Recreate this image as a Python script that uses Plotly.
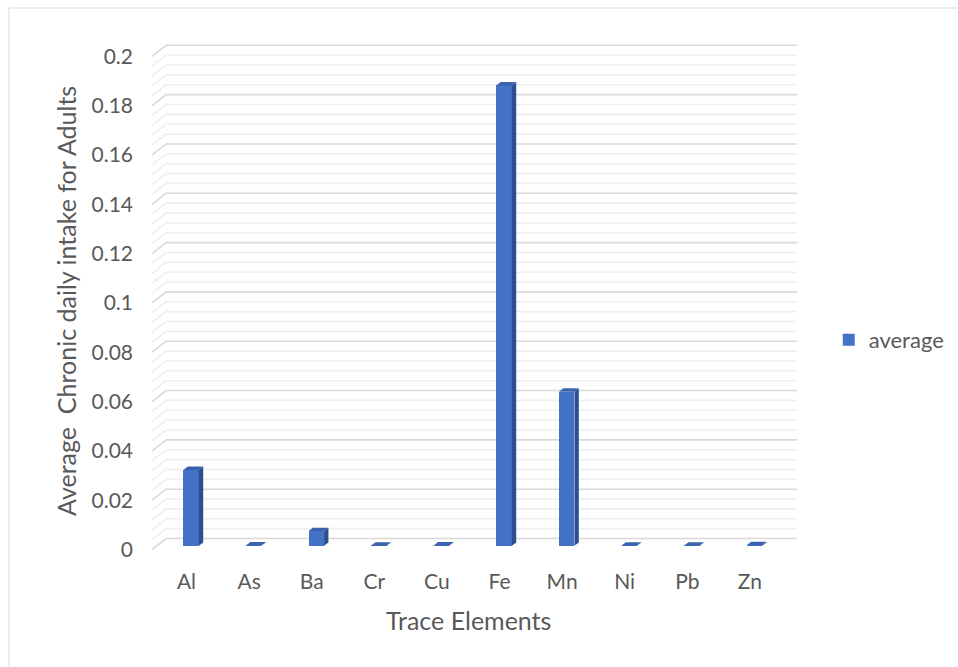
import plotly.graph_objects as go

# Chronic daily intake (average) per trace element
elements = ["Al", "As", "Ba", "Cr", "Cu", "Fe", "Mn", "Ni", "Pb", "Zn"]
average = [0.0308, 0.0002, 0.0060, 0.0001, 0.0002, 0.1867, 0.0625, 0.0001, 0.0001, 0.0003]

y_tick_vals = [0, 0.02, 0.04, 0.06, 0.08, 0.1, 0.12, 0.14, 0.16, 0.18, 0.2]
y_tick_text = ["0", "0.02", "0.04", "0.06", "0.08", "0.1", "0.12", "0.14", "0.16", "0.18", "0.2"]
minor_step = 0.004

# pseudo-3D geometry (category units / value units)
DX = 0.2236          # full depth, horizontal shift of back wall
DY = 0.00446         # full depth, vertical shift of back wall
Z0 = 0.33            # depth of the bar front face
ZD = 0.31            # bar depth
BAR_W = 0.248
FLOOR_L, FLOOR_R = -0.55, 9.53

FRONT = "#4472C4"
SIDE = "#2B4F8F"
TOP = "#3A63AE"
TEXT = "#595959"
FONT = "Lato"

fig = go.Figure()

xs = list(range(len(elements)))
base = Z0 * DY
fig.add_trace(go.Bar(
    x=[i + Z0 * DX for i in xs], y=average, base=base, width=BAR_W,
    marker=dict(color=FRONT, line=dict(width=0)), name="average",
    showlegend=True, hoverinfo="skip",
))

dx, dy = ZD * DX, ZD * DY
for i, v in zip(xs, average):
    xl = i + Z0 * DX - BAR_W / 2
    xr = i + Z0 * DX + BAR_W / 2
    top = base + v
    fig.add_trace(go.Scatter(
        x=[xr, xr, xr + dx, xr + dx, xr], y=[base, top, top + dy, base + dy, base],
        fill="toself", fillcolor=SIDE, mode="lines", line=dict(width=0, color=SIDE),
        showlegend=False, hoverinfo="skip"))
    fig.add_trace(go.Scatter(
        x=[xl, xr, xr + dx, xl + dx, xl], y=[top, top, top + dy, top + dy, top],
        fill="toself", fillcolor=TOP, mode="lines", line=dict(width=0, color=TOP),
        showlegend=False, hoverinfo="skip"))

# gridlines: side-wall diagonal plus back-wall horizontal
shapes = []
n_minor = int(round(max(y_tick_vals) / minor_step))
for k in range(n_minor + 1):
    v = k * minor_step
    major = k % 5 == 0
    shapes.append(dict(
        type="path", xref="x", yref="y", layer="below",
        path=f"M{FLOOR_L},{v} L{FLOOR_L + DX},{v + DY} L{FLOOR_R + DX},{v + DY}",
        line=dict(color="#D9D9D9" if major else "#EFEFEF", width=1.6),
    ))

# chart area border
shapes.append(dict(type="rect", xref="paper", yref="paper",
                   x0=-0.1955, y0=-0.2, x1=1.23, y1=1.0411,
                   line=dict(color="#D9D9D9", width=1), layer="below"))

fig.update_layout(
    width=958, height=667,
    margin=dict(l=140, r=148, t=30, b=102, autoexpand=False),
    paper_bgcolor="white", plot_bgcolor="white",
    font=dict(family=FONT, color=TEXT, size=21),
    shapes=shapes,
    bargap=0,
    xaxis=dict(
        range=[-0.7428, 9.960], tickmode="array", tickvals=xs, ticktext=elements,
        showgrid=False, zeroline=False, showline=False, ticks="",
        tickfont=dict(size=21, color=TEXT), ticklabelstandoff=2,
    ),
    yaxis=dict(
        range=[-0.006286, 0.21067], tickmode="array", tickvals=y_tick_vals,
        ticktext=y_tick_text, showgrid=False, zeroline=False, showline=False,
        ticks="", tickfont=dict(size=21, color=TEXT), ticklabelstandoff=6,
    ),
    legend=dict(x=1.028, y=0.4206, xanchor="left", yanchor="middle",
                font=dict(size=22, color=TEXT), bgcolor="rgba(0,0,0,0)"),
    annotations=[
        dict(text="Trace Elements", xref="paper", yref="paper", x=0.4896, y=-0.1028,
             showarrow=False, font=dict(size=25, color=TEXT), xanchor="center", yanchor="middle"),
        dict(text="Average\u00a0 Chronic daily intake for Adults", xref="paper", yref="paper",
             x=-0.1104, y=0.4935, textangle=-90, showarrow=False,
             font=dict(size=25, color=TEXT), xanchor="center", yanchor="middle"),
    ],
)

fig.write_html("out.html")
